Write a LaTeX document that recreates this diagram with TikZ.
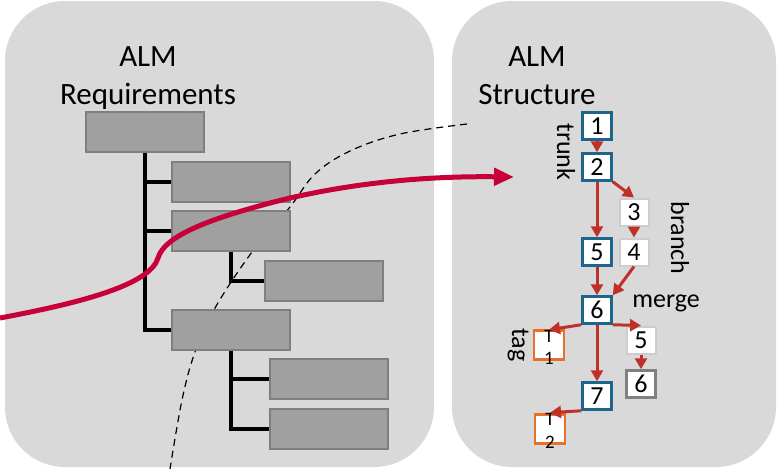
\documentclass[tikz,border=0pt]{standalone}
\usepackage{fontspec}
\setmainfont{Carlito}
\usetikzlibrary{arrows.meta}
\definecolor{panelgray}{RGB}{217,217,217}
\definecolor{boxfill}{RGB}{160,160,160}
\definecolor{boxline}{RGB}{127,127,127}
\definecolor{crimsonC}{RGB}{200,0,58}
\definecolor{edgered}{RGB}{192,48,42}
\definecolor{blueC}{RGB}{31,100,140}
\definecolor{orangeC}{RGB}{232,112,40}
\definecolor{ltgrayC}{RGB}{205,205,205}
\definecolor{dkgrayC}{RGB}{128,128,128}
\tikzset{
  panel/.style={fill=panelgray, draw=none, rounded corners=60pt, inner sep=0pt},
  reqbox/.style={fill=boxfill, draw=boxline, line width=1.5pt, minimum width=118pt, minimum height=40pt, inner sep=0pt},
  treeline/.style={line width=4pt, black},
  title/.style={font=\fontsize{31}{38}\selectfont, align=center, inner sep=0pt},
  vbox/.style={fill=white, line width=2.5pt, minimum width=29pt, minimum height=27pt, inner sep=0pt, font=\fontsize{26}{26}\selectfont},
  trunkbox/.style={vbox, draw=blueC},
  branchbox/.style={vbox, draw=ltgrayC, line width=2pt},
  endbox/.style={vbox, draw=dkgrayC},
  tagbox/.style={vbox, draw=orangeC, minimum width=30pt, minimum height=29pt},
  tagtxt/.style={font=\fontsize{19}{19}\selectfont, inner sep=0pt},
  lbl/.style={font=\fontsize{26}{26}\selectfont, inner sep=0pt},
  edge/.style={draw=edgered, line width=3pt, -{Triangle[length=11pt,width=12pt]}},
  bigarrow/.style={draw=crimsonC, line width=5pt, -{Triangle[length=20pt,width=17pt]}}
}
\begin{document}
\begin{tikzpicture}[x=1pt,y=-1pt]
\useasboundingbox (0,0) rectangle (782,469);
% panels
\node[panel, minimum width=429pt, minimum height=466pt] (lp) at (219.5,234) {};
\node[panel, minimum width=324pt, minimum height=466pt] (rp) at (614,234) {};
% dashed boundary
\draw[dashed, line width=1.2pt, dash pattern=on 7pt off 5pt] plot[smooth, tension=0.6] coordinates {(467,124) (400,134) (350,151) (315,174) (290,207) (252,252) (215,308) (195,352) (182,400) (170,469)};
% requirement tree boxes
\node[reqbox] (r1) at (145,132) {};
\node[reqbox] (r2) at (231,182) {};
\node[reqbox] (r3) at (231,231) {};
\node[reqbox] (r4) at (324,281) {};
\node[reqbox] (r5) at (231,330) {};
\node[reqbox] (r6) at (329,379) {};
\node[reqbox] (r7) at (329,429) {};
% tree lines
\draw[treeline] (r1.south) |- (r5.west);
\draw[treeline] (r1.south |- r2.west) -- (r2.west);
\draw[treeline] (r1.south |- r3.west) -- (r3.west);
\draw[treeline] (r3.south) |- (r4.west);
\draw[treeline] (r5.south) |- (r7.west);
\draw[treeline] (r5.south |- r6.west) -- (r6.west);
% titles
\node[title] (t1) at (148,78) {ALM\\Requirements};
\node[title] (t2) at (537,76) {ALM\\Structure};
% big red arrow
\coordinate (ra) at (0,318);
\coordinate (rb) at (514,177);
\draw[bigarrow] (ra) .. controls (80,303) and (150,285) .. (158,258) .. controls (164,238) and (200,220) .. (290,198) .. controls (360,182) and (430,176) .. (rb);
% version graph
\node[trunkbox] (n1) at (597,126) {1};
\node[trunkbox] (n2) at (597,167) {2};
\node[branchbox] (n3) at (634,212) {3};
\node[branchbox] (n4) at (634,252) {4};
\node[trunkbox] (n5) at (597,252) {5};
\node[trunkbox] (n6) at (597,310) {6};
\node[tagbox] (tg1) at (549,345) {};
\node[branchbox] (m5) at (641,340) {5};
\node[endbox] (m6) at (641,384) {6};
\node[trunkbox] (n7) at (597,396) {7};
\node[tagbox] (tg2) at (550,429) {};
\node[tagtxt] (tg1a) at (549,336) {T};
\node[tagtxt] (tg1b) at (549,358) {1};
\node[tagtxt] (tg2a) at (550,419) {T};
\node[tagtxt] (tg2b) at (550,442) {2};
% edges
\draw[edge] (n1) -- (n2);
\draw[edge] (n2) -- (n5);
\draw[edge] (n2.south east) -- (n3.north);
\draw[edge] (n3) -- (n4);
\draw[edge] (n4.south) -- (n6.north east);
\draw[edge] (n5) -- (n6);
\draw[edge] (n6.south west) -- (tg1a.north);
\draw[edge] (n6.south east) -- (m5.north);
\draw[edge] (m5) -- (m6);
\draw[edge] (n6) -- (n7);
\draw[edge] (n7.south west) -- (tg2a.north);
% labels
\node[lbl, rotate=-90] (ltrunk) at (566,152) {trunk};
\node[lbl, rotate=-90] (lbranch) at (680,238) {branch};
\node[lbl] (lmerge) at (666,303) {merge};
\node[lbl, rotate=-90] (ltag) at (518,345) {tag};
\end{tikzpicture}
\end{document}
